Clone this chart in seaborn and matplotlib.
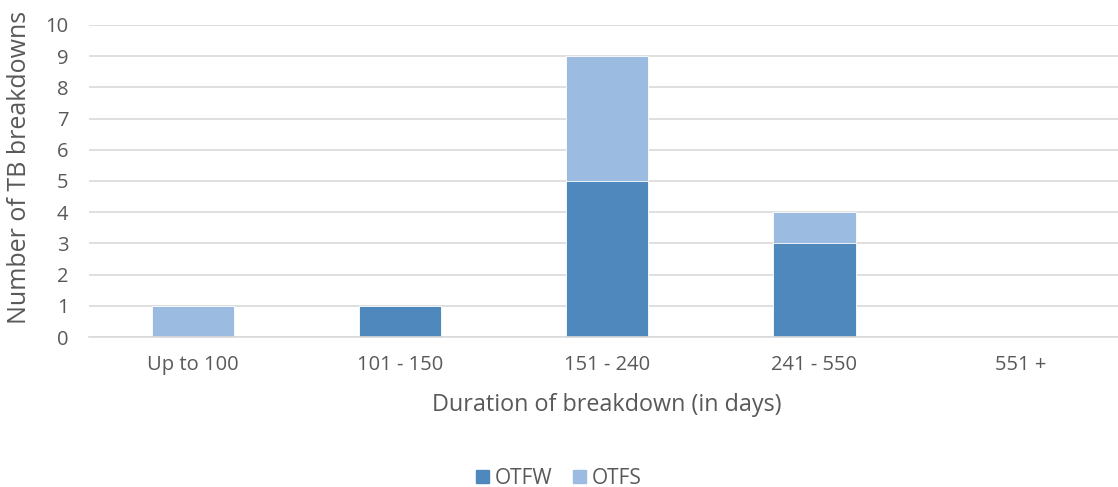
import numpy as np
import pandas as pd
import seaborn as sns
import matplotlib.pyplot as plt
from matplotlib.patches import Patch

categories = ["Up to 100", "101 - 150", "151 - 240", "241 - 550", "551 +"]
otfw = [0, 1, 5, 3, 0]
otfs = [1, 0, 4, 1, 0]

c_otfw = "#4f88bd"
c_otfs = "#9bbbe0"
grey = "#595959"

sns.set_style("white")
plt.rcParams['font.family'] = ['Open Sans', 'DejaVu Sans']

df = pd.DataFrame({"cat": categories, "OTFW": otfw, "OTFS": otfs})
df["total"] = df["OTFW"] + df["OTFS"]

fig = plt.figure(figsize=(11.18, 4.87), dpi=100)
# plot area runs slightly past the right edge of the image, as in the original
ax = fig.add_axes([0.0800, 0.308, 0.926, 0.6407])

# stacked: totals drawn first in the light colour, OTFW on top of it
sns.barplot(data=df, x="cat", y="total", color=c_otfs, width=0.40,
            saturation=1, ax=ax, edgecolor="white", linewidth=0.6)
sns.barplot(data=df, x="cat", y="OTFW", color=c_otfw, width=0.40,
            saturation=1, ax=ax, edgecolor="white", linewidth=0.6)

ax.set_ylim(0, 10)
ax.set_yticks(range(0, 11))
ax.set_xlim(-0.5, 4.5)
ax.yaxis.grid(True, color="#d9d9d9", linewidth=1.2)
ax.set_axisbelow(True)
for s in ["top", "right", "left"]:
    ax.spines[s].set_visible(False)
ax.spines["bottom"].set_color("#d9d9d9")
ax.spines["bottom"].set_linewidth(1.2)
ax.tick_params(axis="both", length=0, labelsize=14.5, colors=grey)
ax.tick_params(axis="y", pad=15)
ax.tick_params(axis="x", pad=13)

ax.set_xlabel("Duration of breakdown (in days)", fontsize=16.8, color=grey, labelpad=13)
ax.set_ylabel("Number of TB breakdowns", fontsize=18, color=grey, labelpad=10)
ax.yaxis.label.set_y(0.545)

handles = [Patch(color=c_otfw, label="OTFW"), Patch(color=c_otfs, label="OTFS")]
fig.legend(handles=handles, loc="center", bbox_to_anchor=(0.5, 0.018), ncol=2,
           frameon=False, fontsize=15, labelcolor=grey, handlelength=0.6,
           handleheight=0.6, handletextpad=0.3, columnspacing=1.0)

fig.savefig("out.png", dpi=100)
